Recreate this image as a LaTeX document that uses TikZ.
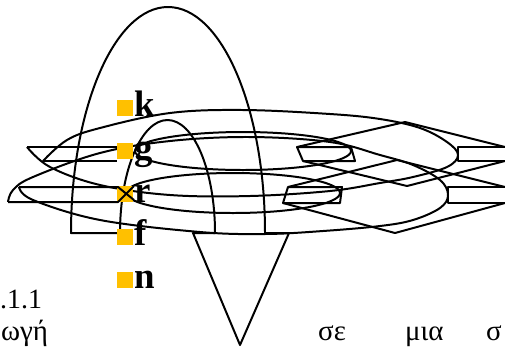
\documentclass[tikz,border=0pt]{standalone}
\usepackage{fontspec}
\setmainfont{Liberation Serif}
\usetikzlibrary{positioning}
\definecolor{bulletyellow}{HTML}{FFC000}

\begin{document}
\begin{tikzpicture}[x=1bp,y=-1bp,
  outline/.style={line width=2pt, line join=round},
  bulletbox/.style={fill=bulletyellow, minimum size=16bp, inner sep=0pt, anchor=south west},
  itemtext/.style={font=\fontsize{37}{40}\selectfont\bfseries, inner sep=0pt, anchor=base west},
  bodytext/.style={font=\fontsize{29}{34}\selectfont, inner sep=0pt, anchor=base west}]
\useasboundingbox (0,0) rectangle (505,347);

% Curved arrow, pointing down
\draw[outline] (71,233) arc[start angle=180, end angle=360, x radius=97, y radius=226]
  -- (289,233) -- (240,345) -- (193,233) -- (215,233)
  arc[start angle=0, end angle=-180, x radius=47.5, y radius=113] -- cycle;

% Upper flat arrow
\draw[outline] (27,147) -- (117,147);
\draw[outline] (43,161) -- (117,161);
\draw[outline] plot[smooth, tension=0.6] coordinates {(43,161) (67,140) (100,128) (170,113)
  (243,110) (330,114) (380,119) (420,128) (447,142) (458,155) (447,167) (413,177) (380,183)
  (330,191) (250,196) (170,195) (100,185) (50,167) (27,147)};
\draw[outline] (243,151) ellipse[x radius=108, y radius=19];
\draw[outline] (303,161) -- (297,147) -- (351,147) -- (355,161) -- cycle;
\draw[outline] (297,147) -- (405,122) -- (505,147);
\draw[outline] (303,161) -- (407,186) -- (505,161);
\draw[outline] (505,147) -- (458,147) -- (458,161) -- (505,161);

% Lower flat arrow
\draw[outline] plot[smooth, tension=0.6] coordinates {(8,202) (13,190) (33,177) (100,153)
  (170,141) (250,137) (330,142) (380,155) (413,165) (440,180) (448,195) (440,208) (413,220)
  (380,226) (323,231) (265,234) (200,232) (100,220) (33,200) (19,187)};
\draw[outline] (233,193) ellipse[x radius=107, y radius=20];
\draw[outline] (283,203) -- (288,187) -- (342,187) -- (340,203) -- cycle;
\draw[outline] (288,187) -- (397,160) -- (505,187);
\draw[outline] (283,203) -- (395,233) -- (505,203);
\draw[outline] (505,187) -- (448,187) -- (448,203) -- (505,203);

% Bullets
\node[bulletbox] (mk) at (117,116) {};
\node[bulletbox] (mg) at (117,159) {};
\node[bulletbox] (mr) at (117,202) {};
\node[bulletbox] (mf) at (117,245) {};
\node[bulletbox] (mn) at (117,288) {};
\node[itemtext] (lk) at (134,116) {k};
\node[itemtext] (lg) at (134,159) {g};
\node[itemtext] (lr) at (134,202) {r};
\node[itemtext] (lf) at (134,245) {f};
\node[itemtext] (ln) at (134,288) {n};

% Lower arrow tail, over the bullet
\draw[outline] (19,187) -- (118,187) -- (134,200);
\draw[outline] (8,202) -- (118,202) -- (134,186);

% Body text
\node[bodytext, font=\fontsize{28}{30}\selectfont] (num) at (0,308) {.1.1};
\node[bodytext] (w1) at (1,340) {ωγή};
\node[bodytext] (w2) at (318,340) {σε};
\node[bodytext] (w3) at (405,340) {μια};
\node[bodytext] (w4) at (486,340) {σ};
\end{tikzpicture}
\end{document}
